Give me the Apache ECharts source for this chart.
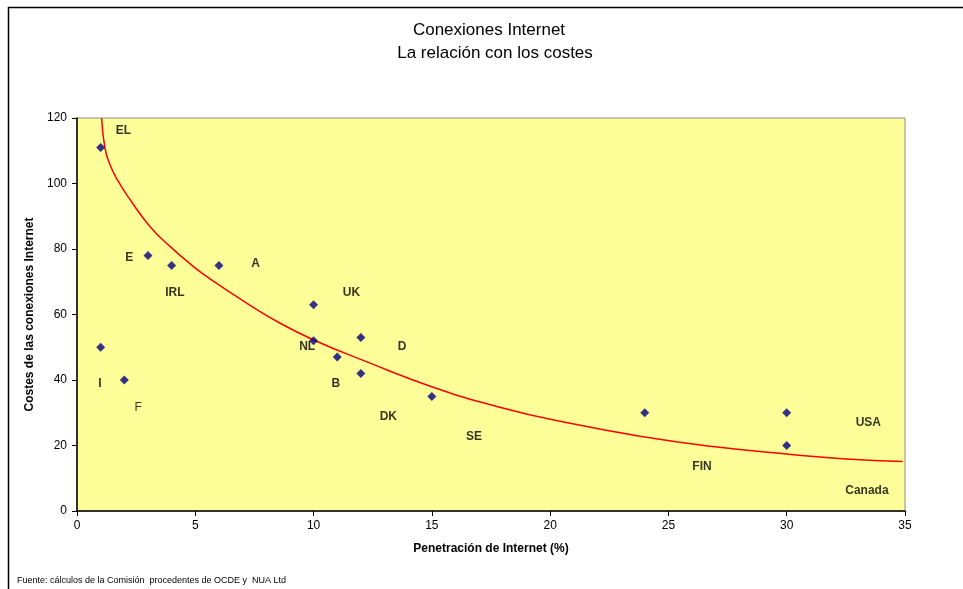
<!DOCTYPE html>
<html>
<head>
<meta charset="utf-8">
<script src="https://cdn.jsdelivr.net/npm/echarts@6/dist/echarts.min.js"></script>
<style>
html,body{margin:0;padding:0;background:#fff;}
#c{width:963px;height:589px;}
</style>
</head>
<body>
<div id="c"></div>
<script>
// Country data points
var pointX = [1, 3, 4, 6, 10, 10, 12, 11, 12, 1, 2, 15, 24, 30, 30];
var pointY = [111, 78, 75, 75, 63, 52, 53, 47, 42, 50, 40, 35, 30, 30, 20];

// Country label texts and their anchor positions (data coordinates)
var labelNames = ['EL', 'E', 'IRL', 'A', 'UK', 'NL', 'D', 'B', 'DK', 'SE', 'I', 'F', 'FIN', 'USA', 'Canada'];
var labelX = [1.96, 2.21, 4.14, 7.55, 11.6, 9.73, 13.74, 10.94, 13.16, 16.78, 0.97, 2.59, 26.42, 33.45, 33.39];
var labelY = [116.0, 77.4, 66.6, 75.4, 66.6, 50.2, 50.2, 39.0, 28.8, 22.7, 39.0, 31.4, 13.4, 27.0, 6.2];

// Trend curve points
var curveX = [1.04, 1.18, 1.39, 1.74, 2.24, 3.08, 3.93, 4.91, 5.62, 7.17, 8.57, 9.98, 12.23, 15.05, 17.86, 20.68, 24.0, 26.87, 30.0, 32.5, 34.9];
var curveY = [120, 110.9, 105.8, 100.7, 95.1, 86.9, 80.8, 74.7, 70.9, 63.5, 57.4, 52.3, 45.6, 37.8, 31.7, 27.0, 22.6, 19.7, 17.4, 15.9, 15.1];

// Axis ticks
var xTicks = [0, 5, 10, 15, 20, 25, 30, 35];
var yTicks = [0, 20, 40, 60, 80, 100, 120];

var FONT = '"Liberation Sans", Arial, sans-serif';

var pts = pointX.map(function (x, i) { return [x, pointY[i]]; });
var labs = labelNames.map(function (n, i) {
  return {
    name: n,
    value: [labelX[i], labelY[i]],
    label: { fontWeight: n === 'F' ? 'normal' : 'bold' }
  };
});
var curve = curveX.map(function (x, i) { return [x, curveY[i]]; });

var chart = echarts.init(document.getElementById('c'), null, { renderer: 'canvas' });
chart.setOption({
  animation: false,
  backgroundColor: '#ffffff',
  textStyle: { fontFamily: FONT },
  graphic: [
    {
      type: 'rect',
      shape: { x: 8.5, y: 7.5, width: 1000, height: 700 },
      style: { fill: 'none', stroke: '#000', lineWidth: 1.5 },
      silent: true, z: 100
    },
    {
      type: 'text', x: 489, y: 22,
      style: { text: 'Conexiones Internet', font: '17px ' + FONT, fill: '#000', textAlign: 'center', textVerticalAlign: 'top' }
    },
    {
      type: 'text', x: 495, y: 45,
      style: { text: 'La relación con los costes', font: '17px ' + FONT, fill: '#000', textAlign: 'center', textVerticalAlign: 'top' }
    },
    {
      type: 'text', x: 17, y: 576,
      style: { text: 'Fuente: cálculos de la Comisión  procedentes de OCDE y  NUA Ltd', font: '9px ' + FONT, fill: '#000', textVerticalAlign: 'top' }
    }
  ],
  grid: {
    left: 77, top: 118, right: 58, bottom: 78,
    show: true, backgroundColor: '#FFFF99', borderColor: '#8c8c8c', borderWidth: 1
  },
  xAxis: {
    type: 'value', min: xTicks[0], max: xTicks[xTicks.length - 1], interval: xTicks[1] - xTicks[0],
    name: 'Penetración de Internet (%)', nameLocation: 'middle', nameGap: 32,
    nameTextStyle: { fontFamily: FONT, fontSize: 12, fontWeight: 'bold', color: '#000' },
    axisLine: { lineStyle: { color: '#000', width: 1.5 } },
    axisTick: { show: true, length: 5, lineStyle: { color: '#000' } },
    axisLabel: { fontFamily: FONT, fontSize: 12, color: '#000', margin: 9 },
    splitLine: { show: false }
  },
  yAxis: {
    type: 'value', min: yTicks[0], max: yTicks[yTicks.length - 1], interval: yTicks[1] - yTicks[0],
    name: 'Costes de las conexiones Internet', nameLocation: 'middle', nameGap: 40,
    nameTextStyle: { fontFamily: FONT, fontSize: 12, fontWeight: 'bold', color: '#000' },
    axisLine: { show: true, lineStyle: { color: '#000', width: 1.5 } },
    axisTick: { show: true, length: 5, lineStyle: { color: '#000' } },
    axisLabel: { fontFamily: FONT, fontSize: 12, color: '#000', margin: 10 },
    splitLine: { show: false }
  },
  series: [
    {
      type: 'line', data: curve, smooth: 0.5, showSymbol: false, symbol: 'none',
      lineStyle: { color: '#ff0000', width: 1.5 }, z: 2, clip: true
    },
    {
      type: 'scatter', data: pts, symbol: 'diamond', symbolSize: 9,
      itemStyle: { color: '#000080' }, z: 3
    },
    {
      type: 'scatter', data: labs, symbolSize: 0, z: 4,
      label: {
        show: true, position: 'inside', formatter: '{b}',
        fontFamily: FONT, fontSize: 12, color: '#000'
      }
    }
  ]
});
</script>
</body>
</html>
